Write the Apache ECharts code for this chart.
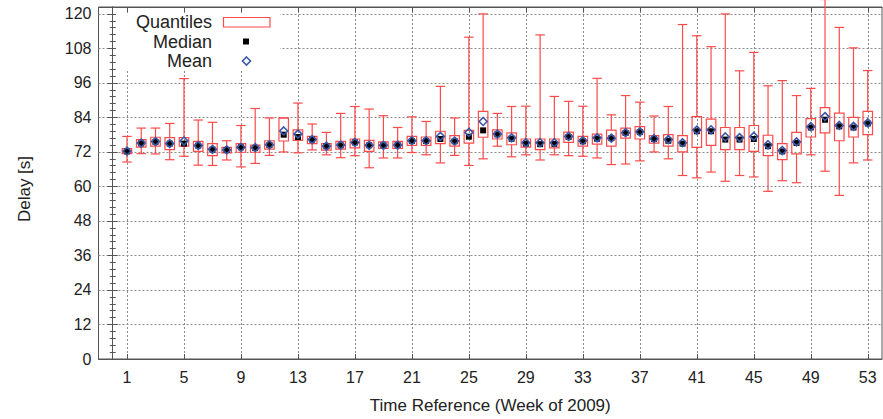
<!DOCTYPE html>
<html>
<head>
<meta charset="utf-8">
<script src="https://cdn.jsdelivr.net/npm/echarts@6/dist/echarts.min.js"></script>
<style>
html,body{margin:0;padding:0;background:#fff;}
#chart{width:883px;height:419px;}
</style>
</head>
<body>
<div id="chart"></div>
<script>
const weeks = [1,2,3,4,5,6,7,8,9,10,11,12,13,14,15,16,17,18,19,20,21,22,23,24,25,26,27,28,29,30,31,32,33,34,35,36,37,38,39,40,41,42,43,44,45,46,47,48,49,50,51,52,53];
const whiskerLow = [68.5,71.4,71.3,69.3,70.5,67.4,67.3,69.2,66.8,68.0,70.8,72.0,71.7,72.7,71.0,70.0,70.7,66.5,69.9,69.9,71.8,71.0,68.2,70.8,67.3,69.6,74.0,70.3,71.0,69.2,71.0,70.7,70.5,69.9,67.6,67.8,68.9,72.0,69.6,63.8,63.0,65.0,61.8,63.8,63.3,58.3,62.0,61.3,71.0,65.3,56.9,68.2,69.2];
const quartile1 = [71.4,73.7,74.0,72.8,74.0,72.2,70.7,71.7,71.9,71.9,73.0,75.8,76.0,74.9,72.6,73.0,73.4,72.2,73.2,73.2,74.3,74.3,74.9,74.0,75.1,77.1,76.5,74.5,73.7,72.8,73.4,75.3,74.0,74.7,74.0,76.8,76.5,75.1,74.0,72.0,73.6,74.3,72.8,72.8,72.2,70.7,69.3,71.3,77.2,78.6,75.9,77.2,78.0];
const medians = [72.2,75.0,75.5,74.9,74.9,74.2,72.8,72.7,73.6,73.4,74.4,78.0,77.2,76.3,74.0,74.3,75.3,74.3,74.3,74.4,75.8,75.8,76.5,75.7,77.3,79.5,78.1,76.6,74.9,74.7,74.8,77.2,75.7,76.6,76.8,78.6,78.9,76.5,75.9,74.9,79.2,79.2,76.3,76.3,76.5,74.0,72.2,75.1,80.5,83.2,80.9,80.5,81.9];
const quartile3 = [73.2,76.3,77.1,77.0,77.0,75.7,74.9,73.6,74.9,74.4,75.9,83.8,79.7,77.4,74.9,75.7,76.5,76.0,75.5,75.7,77.4,77.2,79.2,77.7,79.5,86.1,79.7,78.6,76.5,76.5,76.5,78.9,77.4,78.2,79.6,80.3,80.8,77.7,78.0,77.7,84.3,83.4,80.5,80.5,81.2,77.8,74.9,78.8,83.6,87.4,85.5,84.0,86.1];
const whiskerHigh = [77.4,80.3,80.3,81.9,97.5,83.1,82.3,75.9,81.2,87.1,83.8,83.8,89.0,81.7,78.8,85.4,87.8,86.9,84.6,80.5,84.2,82.6,94.8,83.8,111.9,120.0,85.4,87.8,87.9,112.7,91.3,89.6,87.9,97.6,84.9,91.6,89.3,84.5,87.8,116.3,112.4,108.6,120.0,100.2,106.6,95.0,96.8,91.6,94.1,125.0,115.3,108.2,100.3];
const means = [72.3,75.1,75.6,74.9,75.8,74.2,72.9,72.7,73.6,73.5,74.5,79.3,78.2,76.3,74.0,74.4,75.3,74.3,74.3,74.4,75.9,75.9,77.4,75.8,78.8,82.6,78.2,76.9,75.2,75.2,75.2,77.4,75.9,76.9,76.8,78.7,79.0,76.6,76.3,75.2,79.6,79.7,77.2,77.0,77.4,74.5,72.5,75.5,80.8,84.3,81.2,80.9,82.1];
const xTickLabels = [1,5,9,13,17,21,25,29,33,37,41,45,49,53];
const yTickLabels = [0,12,24,36,48,60,72,84,96,108,120];

const boxData = weeks.map((w, i) => [w, whiskerLow[i], quartile1[i], medians[i], quartile3[i], whiskerHigh[i]]);
const medianData = weeks.map((w, i) => [w, medians[i]]);
const meanData = weeks.map((w, i) => [w, means[i]]);

const RED = '#ff4a4a';
const FONT = '"Liberation Sans", Arial, sans-serif';
const HALF = 4.75;

function renderBox(params, api) {
  const x = api.value(0);
  const lo = api.coord([x, api.value(1)]);
  const q1 = api.coord([x, api.value(2)]);
  const q3 = api.coord([x, api.value(4)]);
  const hi = api.coord([x, api.value(5)]);
  const cx = lo[0];
  const st = { stroke: RED, lineWidth: 1.2, fill: null };
  return {
    type: 'group',
    children: [
      { type: 'line', shape: { x1: cx, y1: hi[1], x2: cx, y2: q3[1] }, style: st },
      { type: 'line', shape: { x1: cx, y1: q1[1], x2: cx, y2: lo[1] }, style: st },
      { type: 'line', shape: { x1: cx - HALF, y1: hi[1], x2: cx + HALF, y2: hi[1] }, style: st },
      { type: 'line', shape: { x1: cx - HALF, y1: lo[1], x2: cx + HALF, y2: lo[1] }, style: st },
      { type: 'rect', shape: { x: cx - HALF, y: q3[1], width: 2 * HALF, height: q1[1] - q3[1] }, style: { stroke: RED, lineWidth: 1.2, fill: 'rgba(0,0,0,0)' } }
    ]
  };
}

const chart = echarts.init(document.getElementById('chart'), null, { renderer: 'svg' });
const axisColor = '#555';
const gridLine = { show: true, lineStyle: { color: '#8a8a8a', type: [2, 2], width: 1 } };

chart.setOption({
  animation: false,
  backgroundColor: '#fff',
  textStyle: { fontFamily: FONT },
  grid: { left: 98.5, right: 1, top: 7, bottom: 58.5, show: true, borderColor: axisColor, borderWidth: 1, backgroundColor: 'transparent' },
  xAxis: [{
    type: 'value', min: -1, max: 54,
    axisLine: { show: true, onZero: false, lineStyle: { color: axisColor } },
    axisTick: { show: true, inside: true, length: 5, customValues: xTickLabels, lineStyle: { color: axisColor } },
    axisLabel: { customValues: xTickLabels, fontSize: 16, color: '#222', margin: 10, fontFamily: FONT },
    splitLine: gridLine,
    name: 'Time Reference (Week of 2009)', nameLocation: 'middle', nameGap: 38,
    nameTextStyle: { fontSize: 17, color: '#222', fontFamily: FONT }
  }, {
    type: 'value', min: -1, max: 54, position: 'top',
    axisLine: { show: true, onZero: false, lineStyle: { color: axisColor } },
    axisTick: { show: true, inside: true, length: 5, customValues: xTickLabels, lineStyle: { color: axisColor } },
    axisLabel: { show: false },
    splitLine: { show: false }
  }],
  yAxis: [{
    type: 'value', min: 0, max: 122.4, interval: 12,
    axisLine: { show: true, lineStyle: { color: axisColor } },
    axisTick: { show: true, inside: true, length: 5, lineStyle: { color: axisColor } },
    minorTick: { show: true, splitNumber: 5, length: 3, lineStyle: { color: axisColor } },
    axisLabel: { fontSize: 16, color: '#222', margin: 7, fontFamily: FONT,
      formatter: v => (yTickLabels.indexOf(Math.round(v * 1000) / 1000) >= 0 ? String(v) : '') },
    splitLine: gridLine,
    name: 'Delay [s]', nameLocation: 'middle', nameGap: 66,
    nameTextStyle: { fontSize: 17, color: '#222', fontFamily: FONT, padding: [0, 12, 0, 0] }
  }, {
    type: 'value', min: 0, max: 122.4, interval: 12, position: 'right',
    axisLine: { show: true, lineStyle: { color: axisColor } },
    axisTick: { show: true, inside: true, length: 5, lineStyle: { color: axisColor } },
    minorTick: { show: true, splitNumber: 5, length: 3, lineStyle: { color: axisColor } },
    axisLabel: { show: false },
    splitLine: { show: false }
  }],
  graphic: [
    { type: 'rect', z: 1, shape: { x: 116, y: 13, width: 164, height: 57 }, style: { fill: '#fff' } },
    { type: 'text', z: 3, style: { text: 'Quantiles', x: 212, y: 22, align: 'right', verticalAlign: 'middle', fontSize: 18, fill: '#222', fontFamily: FONT } },
    { type: 'text', z: 3, style: { text: 'Median', x: 212, y: 41.5, align: 'right', verticalAlign: 'middle', fontSize: 18, fill: '#222', fontFamily: FONT } },
    { type: 'text', z: 3, style: { text: 'Mean', x: 212, y: 61, align: 'right', verticalAlign: 'middle', fontSize: 18, fill: '#222', fontFamily: FONT } },
    { type: 'rect', z: 3, shape: { x: 223.5, y: 17.5, width: 46.5, height: 9.5 }, style: { stroke: RED, lineWidth: 1.2, fill: 'rgba(0,0,0,0)' } },
    { type: 'rect', z: 3, shape: { x: 243, y: 38.5, width: 6, height: 6 }, style: { fill: '#000' } },
    { type: 'polygon', z: 3, shape: { points: [[246.5, 57], [250.5, 61], [246.5, 65], [242.5, 61]] }, style: { stroke: '#3a5aa8', lineWidth: 1.6, fill: 'rgba(0,0,0,0)' } }
  ],
  series: [
    { type: 'custom', name: 'Quantiles', renderItem: renderBox, data: boxData, encode: { x: 0, y: [1, 2, 3, 4, 5] }, z: 2 },
    { type: 'scatter', name: 'Median', data: medianData, symbol: 'rect', symbolSize: 6, itemStyle: { color: '#000', opacity: 1 }, z: 3 },
    { type: 'scatter', name: 'Mean', data: meanData, symbol: 'diamond', symbolSize: [8, 8],
      itemStyle: { color: 'rgba(0,0,0,0)', borderColor: '#3a5aa8', borderWidth: 1.6, opacity: 1 }, z: 4 }
  ]
});
</script>
</body>
</html>
